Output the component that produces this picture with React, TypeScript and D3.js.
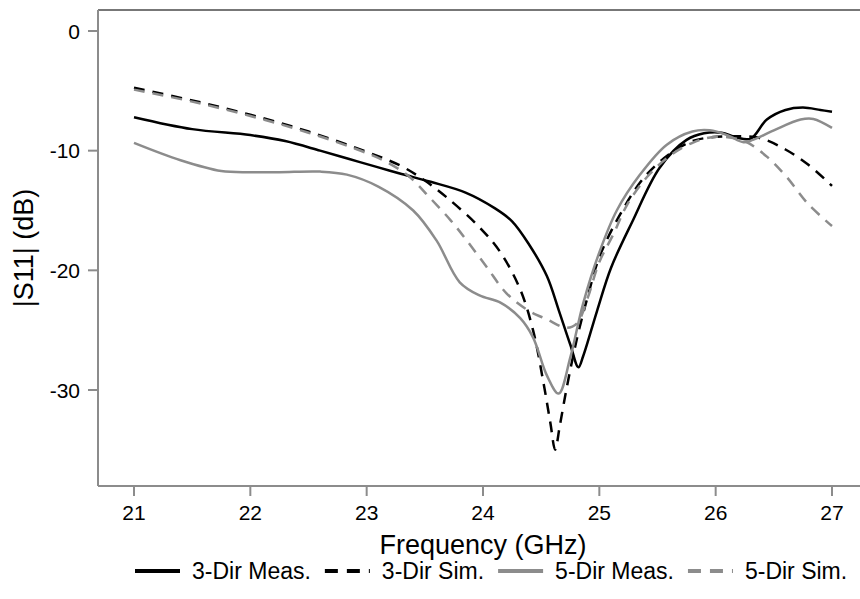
import React, { useEffect, useRef } from 'react';
import * as d3 from 'd3';

// frequency (GHz) / |S11| (dB), one pair of arrays per trace
const freq3Meas = [21.0, 21.5, 22.0, 22.3, 22.6, 22.85, 23.1, 23.3, 23.55, 23.85, 24.1, 24.25, 24.4, 24.55, 24.65, 24.75, 24.82, 24.86, 24.98, 25.1, 25.28, 25.52, 25.75, 25.9, 26.05, 26.18, 26.3, 26.44, 26.6, 26.75, 26.9, 27.0];
const s11_3Meas = [-7.2, -8.2, -8.7, -9.2, -10.0, -10.7, -11.4, -11.95, -12.6, -13.5, -14.8, -15.9, -17.9, -20.5, -23.3, -26.2, -28.1, -27.2, -23.4, -19.8, -16.0, -11.4, -9.1, -8.55, -8.5, -8.9, -9.0, -7.4, -6.6, -6.4, -6.6, -6.75];

const freq3Sim = [21.0, 21.5, 22.0, 22.5, 23.0, 23.3, 23.5, 23.7, 23.97, 24.15, 24.32, 24.43, 24.52, 24.58, 24.62, 24.66, 24.72, 24.81, 24.9, 25.0, 25.18, 25.38, 25.6, 25.8, 25.95, 26.15, 26.38, 26.6, 26.8, 27.0];
const s11_3Sim = [-4.75, -5.8, -7.0, -8.4, -10.1, -11.3, -12.5, -14.0, -16.4, -18.5, -21.6, -25.0, -29.4, -32.8, -35.0, -33.0, -29.8, -25.6, -22.2, -18.9, -15.3, -12.3, -10.3, -9.2, -8.9, -8.8, -8.95, -9.9, -11.2, -12.95];

const freq5Meas = [21.0, 21.4, 21.75, 22.0, 22.25, 22.6, 22.83, 23.1, 23.4, 23.6, 23.8, 23.97, 24.15, 24.32, 24.43, 24.55, 24.65, 24.75, 24.86, 25.0, 25.15, 25.35, 25.58, 25.8, 25.95, 26.1, 26.24, 26.32, 26.5, 26.73, 26.84, 27.0];
const s11_5Meas = [-9.35, -10.8, -11.7, -11.8, -11.8, -11.75, -12.0, -13.0, -15.0, -17.5, -21.0, -22.1, -22.7, -24.0, -25.6, -28.8, -30.3, -27.3, -22.8, -18.5, -15.0, -12.0, -9.5, -8.4, -8.3, -8.7, -9.3, -9.1, -8.3, -7.4, -7.35, -8.1];

const freq5Sim = [21.0, 21.5, 22.0, 22.5, 23.0, 23.2, 23.37, 23.54, 23.72, 23.86, 24.03, 24.2, 24.38, 24.55, 24.72, 24.81, 24.9, 25.0, 25.12, 25.24, 25.41, 25.61, 25.81, 25.98, 26.15, 26.27, 26.44, 26.61, 26.79, 27.0];
const s11_5Sim = [-4.9, -5.9, -7.1, -8.5, -10.2, -11.1, -12.2, -13.9, -15.8, -17.5, -19.7, -21.9, -23.3, -24.1, -24.8, -24.4, -22.3, -19.3, -17.0, -14.5, -12.2, -10.4, -9.3, -8.85, -8.95, -9.3, -10.5, -12.2, -14.4, -16.3];

const xTicks = [21, 22, 23, 24, 25, 26, 27];
const yTicks = [0, -10, -20, -30];
const seriesNames = ['3-Dir Meas.', '3-Dir Sim.', '5-Dir Meas.', '5-Dir Sim.'];

const width = 860;
const height = 599;
const frame = { left: 98, right: 860, top: 10, bottom: 486 };
const font = 'Liberation Sans, Arial, sans-serif';
const axisGray = '#8c8c8c';

export default function App() {
  const ref = useRef<SVGSVGElement>(null);

  useEffect(() => {
    const svg = d3.select(ref.current);
    svg.selectAll('*').remove();

    const x = d3.scaleLinear().domain([21, 27]).range([134, 832]);
    const y = d3.scaleLinear().domain([0, -30]).range([31, 390]);

    const series = [
      { f: freq3Meas, v: s11_3Meas, color: '#000', dash: null },
      { f: freq3Sim, v: s11_3Sim, color: '#000', dash: '11,8' },
      { f: freq5Meas, v: s11_5Meas, color: '#8c8c8c', dash: null },
      { f: freq5Sim, v: s11_5Sim, color: '#8c8c8c', dash: '11,8' },
    ];

    // frame: top line, left + bottom axes
    svg.append('line')
      .attr('x1', frame.left).attr('x2', frame.right)
      .attr('y1', frame.top).attr('y2', frame.top)
      .attr('stroke', '#777').attr('stroke-width', 2);
    svg.append('line')
      .attr('x1', frame.left).attr('x2', frame.left)
      .attr('y1', frame.top).attr('y2', frame.bottom)
      .attr('stroke', axisGray).attr('stroke-width', 2);
    svg.append('line')
      .attr('x1', frame.left).attr('x2', frame.right)
      .attr('y1', frame.bottom).attr('y2', frame.bottom)
      .attr('stroke', axisGray).attr('stroke-width', 2);

    // y ticks
    const yt = svg.append('g').selectAll('g').data(yTicks).enter().append('g');
    yt.append('line')
      .attr('x1', frame.left - 10).attr('x2', frame.left)
      .attr('y1', d => y(d)).attr('y2', d => y(d))
      .attr('stroke', axisGray).attr('stroke-width', 2);
    yt.append('text')
      .attr('x', frame.left - 18).attr('y', d => y(d))
      .attr('dy', '0.36em')
      .attr('text-anchor', 'end')
      .style('font-family', font).style('font-size', '21px')
      .text(d => d);

    // x ticks
    const xt = svg.append('g').selectAll('g').data(xTicks).enter().append('g');
    xt.append('line')
      .attr('x1', d => x(d)).attr('x2', d => x(d))
      .attr('y1', frame.bottom).attr('y2', frame.bottom + 10)
      .attr('stroke', axisGray).attr('stroke-width', 2);
    xt.append('text')
      .attr('x', d => x(d)).attr('y', frame.bottom + 34)
      .attr('text-anchor', 'middle')
      .style('font-family', font).style('font-size', '21px')
      .text(d => d);

    // axis titles
    svg.append('text')
      .attr('x', x(24)).attr('y', 554)
      .attr('text-anchor', 'middle')
      .style('font-family', font).style('font-size', '27px')
      .text('Frequency (GHz)');
    svg.append('text')
      .attr('transform', `translate(33,${(frame.top + frame.bottom) / 2}) rotate(-90)`)
      .attr('text-anchor', 'middle')
      .style('font-family', font).style('font-size', '27px')
      .text('|S11| (dB)');

    // curves
    const line = d3.line<[number, number]>()
      .x(d => x(d[0]))
      .y(d => y(d[1]))
      .curve(d3.curveCatmullRom.alpha(0.5));

    series.forEach(s => {
      const pts = s.f.map((f, i) => [f, s.v[i]] as [number, number]);
      svg.append('path')
        .attr('d', line(pts))
        .attr('fill', 'none')
        .attr('stroke', s.color)
        .attr('stroke-width', 2.5)
        .attr('stroke-dasharray', s.dash);
    });

    // legend, laid out left to right from measured text widths
    const lineLen = 45;
    const textGap = 12;
    const itemGap = 14;
    let cursor = 135;
    series.forEach((s, i) => {
      const g = svg.append('g').attr('transform', `translate(${cursor},571)`);
      g.append('line')
        .attr('x1', 0).attr('x2', lineLen)
        .attr('stroke', s.color)
        .attr('stroke-width', 4)
        .attr('stroke-dasharray', s.dash ? '13,9' : null);
      const t = g.append('text')
        .attr('x', lineLen + textGap).attr('dy', '0.36em')
        .style('font-family', font).style('font-size', '23px')
        .text(seriesNames[i]);
      const w = (t.node() as SVGTextElement).getComputedTextLength();
      cursor += lineLen + textGap + w + itemGap;
    });
  }, []);

  return (
    <svg ref={ref} width={width} height={height}
      style={{ position: 'absolute', left: 0, top: 0, background: '#fff' }} />
  );
}
